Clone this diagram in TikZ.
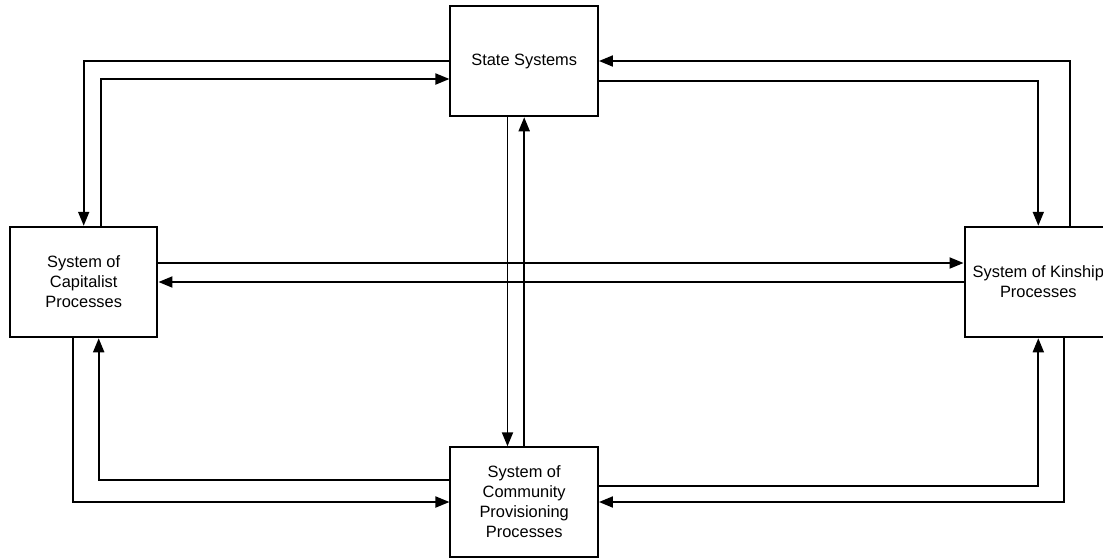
\documentclass[tikz,border=0pt]{standalone}
\usepackage{fontspec}
\setmainfont{Liberation Sans}
\usetikzlibrary{arrows.meta}
\begin{document}
\begin{tikzpicture}[x=1pt,y=-1pt,
  sysbox/.style={draw=black, line width=2pt, rectangle, minimum width=147.5pt,
    minimum height=110.5pt, align=center, inner sep=2pt,
    font=\fontsize{16.4pt}{20pt}\selectfont},
  link/.style={draw=black, line width=1.9pt, -{Triangle[length=14pt,width=11pt]}}]
  \clip (0,0) rectangle (1103,558);
  \fill[white] (0,0) rectangle (1103,558);

  % the four systems
  \node[sysbox] (state) at (524.2,61) {State Systems};
  \node[sysbox] (cap) at (83.7,282) {System of\\Capitalist\\Processes};
  \node[sysbox] (kin) at (1038.3,282) {System of Kinship\\Processes};
  \node[sysbox, minimum height=109.4pt] (comm) at (524.2,502) {System of\\Community\\Provisioning\\Processes};

  % state <-> capitalist
  \draw[link] (state.west) -| (cap.north);
  \draw[link] ([xshift=17pt]cap.north) |- ([yshift=-18pt]state.west);

  % state <-> kinship
  \draw[link] ([xshift=31.3pt]kin.north) |- (state.east);
  \draw[link] ([yshift=-20pt]state.east) -| (kin.north);

  % capitalist <-> kinship
  \draw[link] ([yshift=19pt]cap.east) -- ([yshift=19pt]kin.west);
  \draw[link] (kin.west) -- (cap.east);

  % state <-> community
  \draw[link] ([xshift=-16.7pt]state.south) -- ([xshift=-16.7pt]comm.north);
  \draw[link] (comm.north) -- (state.south);

  % capitalist <-> community
  \draw[link] ([yshift=22pt]comm.west) -| ([xshift=15pt]cap.south);
  \draw[link] ([xshift=-11pt]cap.south) |- (comm.west);

  % kinship <-> community
  \draw[link] ([yshift=16pt]comm.east) -| (kin.south);
  \draw[link] ([xshift=25.5pt]kin.south) |- (comm.east);
\end{tikzpicture}
\end{document}
